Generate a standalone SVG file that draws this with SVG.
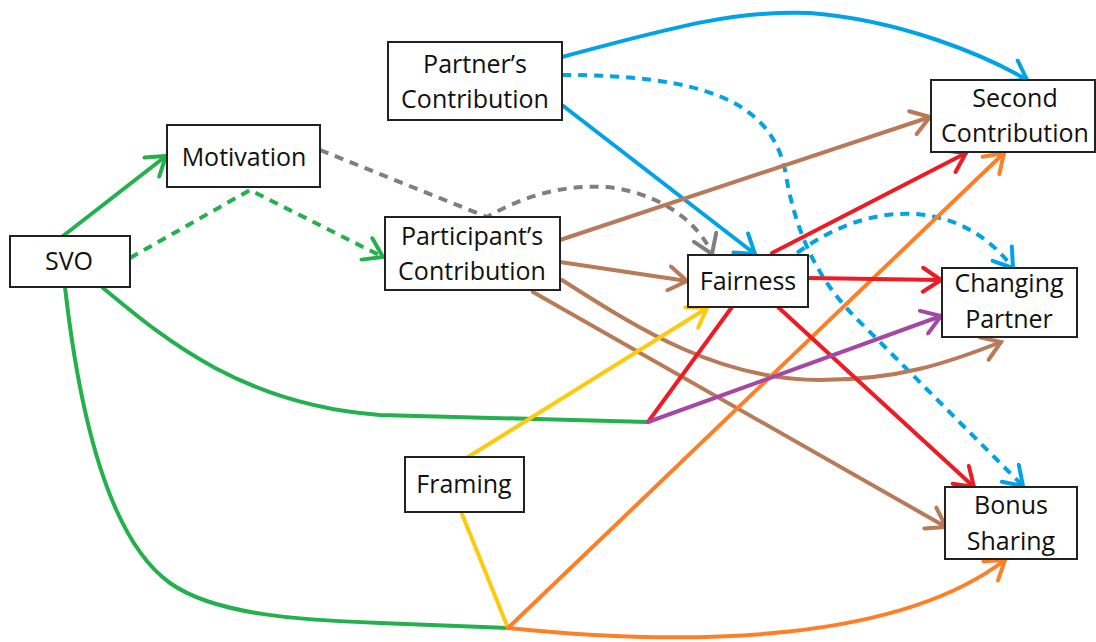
<svg xmlns="http://www.w3.org/2000/svg" width="1096" height="642" viewBox="0 0 1096 642">
<style>
.box{fill:#fff;stroke:#222;stroke-width:2}
.lbl{font-family:"Open Sans","Liberation Sans",sans-serif;font-size:25px;fill:#111;text-anchor:middle}
.c{fill:none;stroke-width:4;stroke-linecap:round;stroke-linejoin:round}
.d{stroke-dasharray:9 7;stroke-linecap:butt}
.ah{fill:none;stroke-width:4;stroke-linecap:round;stroke-linejoin:miter}
.gr{stroke:#22b14c}.bl{stroke:#00a2e8}.rd{stroke:#ed1c24}.br{stroke:#b97a57}
.or{stroke:#ff7f27}.ye{stroke:#ffc90e}.pu{stroke:#a349a4}.gy{stroke:#7f7f7f}
</style>
<defs>
<marker id="aGr" viewBox="-22 -14 26 28" refX="0" refY="0" markerWidth="26" markerHeight="28" markerUnits="userSpaceOnUse" orient="auto"><path class="ah gr" d="M-18,-12 L0,0 L-18,12"/></marker>
<marker id="aBl" viewBox="-22 -14 26 28" refX="0" refY="0" markerWidth="26" markerHeight="28" markerUnits="userSpaceOnUse" orient="auto"><path class="ah bl" d="M-18,-12 L0,0 L-18,12"/></marker>
<marker id="aRd" viewBox="-22 -14 26 28" refX="0" refY="0" markerWidth="26" markerHeight="28" markerUnits="userSpaceOnUse" orient="auto"><path class="ah rd" d="M-18,-12 L0,0 L-18,12"/></marker>
<marker id="aBr" viewBox="-22 -14 26 28" refX="0" refY="0" markerWidth="26" markerHeight="28" markerUnits="userSpaceOnUse" orient="auto"><path class="ah br" d="M-18,-12 L0,0 L-18,12"/></marker>
<marker id="aOr" viewBox="-22 -14 26 28" refX="0" refY="0" markerWidth="26" markerHeight="28" markerUnits="userSpaceOnUse" orient="auto"><path class="ah or" d="M-18,-12 L0,0 L-18,12"/></marker>
<marker id="aYe" viewBox="-22 -14 26 28" refX="0" refY="0" markerWidth="26" markerHeight="28" markerUnits="userSpaceOnUse" orient="auto"><path class="ah ye" d="M-18,-12 L0,0 L-18,12"/></marker>
<marker id="aPu" viewBox="-22 -14 26 28" refX="0" refY="0" markerWidth="26" markerHeight="28" markerUnits="userSpaceOnUse" orient="auto"><path class="ah pu" d="M-18,-12 L0,0 L-18,12"/></marker>
<marker id="aGy" viewBox="-22 -14 26 28" refX="0" refY="0" markerWidth="26" markerHeight="28" markerUnits="userSpaceOnUse" orient="auto"><path class="ah gy" d="M-18,-12 L0,0 L-18,12"/></marker>
</defs>
<rect width="1096" height="642" fill="#fff"/>
<g id="connectors">
<!-- green -->
<path class="c gr" d="M63,236 L166,156" marker-end="url(#aGr)"/>
<path class="c gr d" d="M130,258 L250,190 L383,257" marker-end="url(#aGr)"/>
<path class="c gr" d="M103,288 C160,335 240,405 380,415 L648,422"/>
<path class="c gr" d="M65,287 C80,420 110,540 170,583 C215,615 300,620 380,623 L508,628"/>
<!-- gray -->
<path class="c gy d" d="M320,150 L487,217 C530,192 575,183 615,188 C665,196 700,225 712,254" marker-end="url(#aGy)"/>
<!-- blue -->
<path class="c bl" d="M562,57 C680,25 740,10 810,13 C900,20 985,55 1027,80" marker-end="url(#aBl)"/>
<path class="c bl" d="M562,105 L755,254" marker-end="url(#aBl)"/>
<path class="c bl d" d="M562,75 C700,75 770,100 785,170 C795,230 815,280 865,327 L1023,486" marker-end="url(#aBl)"/>
<path class="c bl d" d="M797,253 C840,222 880,212 915,214 C960,217 992,240 1013,268" marker-end="url(#aBl)"/>
<!-- brown -->
<path class="c br" d="M560,240 L930,117" marker-end="url(#aBr)"/>
<path class="c br" d="M560,262 L687,281" marker-end="url(#aBr)"/>
<path class="c br" d="M562,280 C640,330 720,380 820,380 C900,380 950,362 1001,342" marker-end="url(#aBr)"/>
<path class="c br" d="M533,292 L946,527" marker-end="url(#aBr)"/>
<!-- yellow -->
<path class="c ye" d="M468,457 L707,308" marker-end="url(#aYe)"/>
<path class="c ye" d="M462,514 L508,628"/>
<!-- orange -->
<path class="c or" d="M508,628 L1004,153" marker-end="url(#aOr)"/>
<path class="c or" d="M508,628 C700,648 900,640 1005,560" marker-end="url(#aOr)"/>
<!-- red -->
<path class="c rd" d="M648,422 L732,307"/>
<path class="c rd" d="M772,253 L966,153" marker-end="url(#aRd)"/>
<path class="c rd" d="M808,278 L941,280" marker-end="url(#aRd)"/>
<path class="c rd" d="M778,307 L974,487" marker-end="url(#aRd)"/>
<!-- purple -->
<path class="c pu" d="M648,422 L941,316" marker-end="url(#aPu)"/>
</g>
<g id="svo"><rect class="box" x="10" y="236" width="120" height="51"/><text class="lbl" x="69" y="270">SVO</text></g>
<g id="motivation"><rect class="box" x="167" y="125" width="153" height="62"/><text class="lbl" x="244" y="166">Motivation</text></g>
<g id="partners-contribution"><rect class="box" x="388" y="42" width="174" height="78"/><text class="lbl" x="475" y="73">Partner’s</text><text class="lbl" x="475" y="108">Contribution</text></g>
<g id="participants-contribution"><rect class="box" x="385" y="217" width="175" height="73"/><text class="lbl" x="472" y="245">Participant’s</text><text class="lbl" x="472" y="280">Contribution</text></g>
<g id="fairness"><rect class="box" x="688" y="255" width="120" height="52"/><text class="lbl" x="748" y="290">Fairness</text></g>
<g id="second-contribution"><rect class="box" x="931" y="80" width="164" height="72"/><text class="lbl" x="1015" y="107">Second</text><text class="lbl" x="1015" y="142">Contribution</text></g>
<g id="changing-partner"><rect class="box" x="942" y="268" width="135" height="69"/><text class="lbl" x="1009" y="292">Changing</text><text class="lbl" x="1009" y="328">Partner</text></g>
<g id="bonus-sharing"><rect class="box" x="945" y="487" width="132" height="72"/><text class="lbl" x="1011" y="514">Bonus</text><text class="lbl" x="1011" y="550">Sharing</text></g>
<g id="framing"><rect class="box" x="405" y="457" width="119" height="55"/><text class="lbl" x="464" y="493">Framing</text></g>
</svg>
